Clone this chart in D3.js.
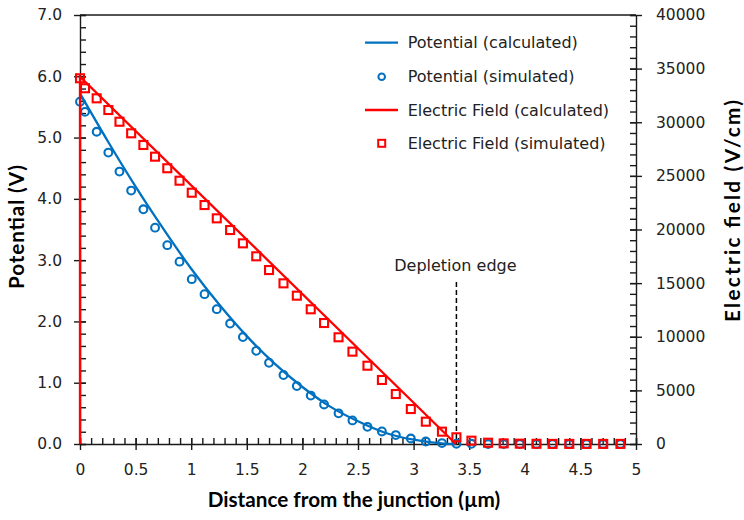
<!DOCTYPE html>
<html>
<head>
<meta charset="utf-8">
<script src="https://cdn.jsdelivr.net/npm/d3@7"></script>
<style>
  html, body { margin: 0; padding: 0; background: #fff; }
  svg { display: block; }
  .tick text { font-family: "DejaVu Sans", sans-serif; font-size: 15.5px; fill: #222; }
  .axis path, .axis line { stroke: #1a1a1a; stroke-width: 1.4; }
  .title { font-family: Lato, "Open Sans", sans-serif; font-weight: bold; font-size: 20.7px; fill: #000; }
  .legend text, .note { font-family: "DejaVu Sans", sans-serif; font-size: 16px; fill: #222; }
</style>
</head>
<body>
<svg id="chart" width="744" height="520"></svg>
<script>
// Distance from the junction (µm) of each simulated mesh point
const simX = [0, 0.045, 0.15, 0.255, 0.355, 0.46, 0.57, 0.675, 0.785, 0.895,
  1.005, 1.12, 1.23, 1.35, 1.465, 1.585, 1.70, 1.83, 1.95, 2.075,
  2.195, 2.325, 2.45, 2.585, 2.715, 2.84, 2.975, 3.11, 3.255, 3.385,
  3.52, 3.67, 3.81, 3.955, 4.105, 4.25, 4.40, 4.555, 4.705, 4.86];

// Simulated potential (V)
const simPotential = [5.585, 5.42, 5.095, 4.755, 4.445, 4.135, 3.83, 3.53, 3.245, 2.975,
  2.69, 2.445, 2.2, 1.965, 1.745, 1.52, 1.325, 1.125, 0.945, 0.79,
  0.645, 0.50, 0.385, 0.28, 0.205, 0.145, 0.09, 0.04, 0.015, 0.004,
  0.003, 0, 0, 0, 0, 0, 0, 0, 0, 0];

// Simulated electric field (V/cm)
const simField = [34100, 33170, 32230, 31140, 30050, 28970, 27880, 26790, 25710, 24550,
  23430, 22280, 21040, 19950, 18710, 17500, 16220, 14980, 13830, 12560,
  11280, 9950, 8610, 7300, 5970, 4660, 3260, 2080, 1150, 625,
  310, 120, 60, 30, 20, 10, 10, 10, 10, 10];

// Calculated potential (V)
const calcPotentialX = [0, 0.25, 0.5, 0.75, 1.0, 1.25, 1.5, 1.75, 2.0, 2.25, 2.5, 2.75, 3.0, 3.2, 3.38];
const calcPotential  = [5.72, 4.94, 4.20, 3.51, 2.86, 2.28, 1.76, 1.31, 0.93, 0.61, 0.37, 0.18, 0.07, 0.02, 0];

// Calculated electric field (V/cm)
const calcFieldX = [0, 0, 3.38];
const calcField  = [0, 34250, 0];

// Depletion edge position (µm)
const depletionEdge = 3.385;

// Axis ticks
const xTicks = [0, 0.5, 1, 1.5, 2, 2.5, 3, 3.5, 4, 4.5, 5];
const potentialTicks = [0, 1, 2, 3, 4, 5, 6, 7];
const fieldTicks = [0, 5000, 10000, 15000, 20000, 25000, 30000, 35000, 40000];

const legendItems = [
  { label: "Potential (calculated)", color: "#0070C0", kind: "line" },
  { label: "Potential (simulated)", color: "#0070C0", kind: "circle" },
  { label: "Electric Field (calculated)", color: "#FF0000", kind: "line" },
  { label: "Electric Field (simulated)", color: "#FF0000", kind: "square" }
];

const blue = "#0070C0", red = "#FF0000";
const svg = d3.select("#chart");
const plotLeft = 80, plotRight = 636, plotTop = 15, plotBottom = 444;

const x = d3.scaleLinear().domain([0, 5]).range([plotLeft, plotRight]);
const yL = d3.scaleLinear().domain([0, 7]).range([plotBottom, plotTop]);
const yR = d3.scaleLinear().domain([0, 40000]).range([plotBottom, plotTop]);

// top frame line
svg.append("line").attr("x1", plotLeft).attr("x2", plotRight).attr("y1", plotTop).attr("y2", plotTop)
  .attr("stroke", "#1a1a1a").attr("stroke-width", 1.4);

// minor ticks (inside the plot)
const minorX = d3.range(0, 5.0001, 0.1);
const minorL = d3.range(0, 7.0001, 0.2);
const minorR = d3.range(0, 40001, 1000);

svg.append("g").attr("class", "axis").attr("transform", `translate(0,${plotBottom})`)
  .call(d3.axisBottom(x).tickValues(minorX).tickSize(-6).tickFormat(""))
  .call(g => g.select(".domain").remove());
svg.append("g").attr("class", "axis").attr("transform", `translate(${plotLeft},0)`)
  .call(d3.axisLeft(yL).tickValues(minorL).tickSize(-6).tickFormat(""))
  .call(g => g.select(".domain").remove());
svg.append("g").attr("class", "axis").attr("transform", `translate(${plotRight},0)`)
  .call(d3.axisRight(yR).tickValues(minorR).tickSize(-6).tickFormat(""))
  .call(g => g.select(".domain").remove());

// major ticks crossing the axis lines, with labels
svg.append("g").attr("class", "axis").attr("transform", `translate(0,${plotBottom})`)
  .call(d3.axisBottom(x).tickValues(xTicks).tickSizeInner(6).tickSizeOuter(0).tickPadding(14).tickFormat(d3.format("")))
  .call(g => g.selectAll(".tick").append("line").attr("y2", -6).attr("stroke", "#1a1a1a"));
svg.append("g").attr("class", "axis").attr("transform", `translate(${plotLeft},0)`)
  .call(d3.axisLeft(yL).tickValues(potentialTicks).tickSizeInner(6).tickSizeOuter(0).tickPadding(12).tickFormat(d3.format(".1f")))
  .call(g => g.selectAll(".tick").append("line").attr("x2", 6).attr("stroke", "#1a1a1a"));
svg.append("g").attr("class", "axis").attr("transform", `translate(${plotRight},0)`)
  .call(d3.axisRight(yR).tickValues(fieldTicks).tickSizeInner(6).tickSizeOuter(0).tickPadding(14).tickFormat(d3.format("d")))
  .call(g => g.selectAll(".tick").append("line").attr("x2", -6).attr("stroke", "#1a1a1a"));

// axis titles
svg.append("text").attr("class", "title").attr("x", 354).attr("y", 507)
  .attr("text-anchor", "middle").text("Distance from the junction (µm)");
svg.append("text").attr("class", "title").attr("transform", "translate(24,227) rotate(-90)")
  .attr("text-anchor", "middle").attr("textLength", 124).text("Potential (V)");
svg.append("text").attr("class", "title").attr("transform", "translate(740,211) rotate(-90)")
  .attr("text-anchor", "middle").attr("textLength", 222).text("Electric field (V/cm)");

// depletion edge marker
svg.append("line").attr("x1", x(depletionEdge)).attr("x2", x(depletionEdge))
  .attr("y1", 282).attr("y2", plotBottom)
  .attr("stroke", "#000").attr("stroke-width", 1.5).attr("stroke-dasharray", "5,3");
svg.append("text").attr("class", "note").attr("x", x(depletionEdge) - 1).attr("y", 271)
  .attr("text-anchor", "middle").text("Depletion edge");

// potential series
const potLine = d3.line().x(d => x(d[0])).y(d => yL(d[1])).curve(d3.curveMonotoneX);
svg.append("path").datum(calcPotentialX.map((v, i) => [v, calcPotential[i]]))
  .attr("d", potLine).attr("fill", "none").attr("stroke", blue).attr("stroke-width", 2.3);
svg.append("g").selectAll("circle").data(simX.map((v, i) => [v, simPotential[i]])).join("circle")
  .attr("cx", d => x(d[0])).attr("cy", d => yL(d[1])).attr("r", 3.9)
  .attr("fill", "none").attr("stroke", blue).attr("stroke-width", 2.1);

// electric field series
const fieldLine = d3.line().x(d => x(d[0])).y(d => yR(d[1]));
svg.append("path").datum(calcFieldX.map((v, i) => [v, calcField[i]]))
  .attr("d", fieldLine).attr("fill", "none").attr("stroke", red).attr("stroke-width", 2.3);
const sq = 8;
svg.append("g").selectAll("rect").data(simX.map((v, i) => [v, simField[i]])).join("rect")
  .attr("x", d => x(d[0]) - sq / 2).attr("y", d => yR(d[1]) - sq / 2)
  .attr("width", sq).attr("height", sq)
  .attr("fill", "none").attr("stroke", red).attr("stroke-width", 2.1);

// legend
const legend = svg.append("g").attr("class", "legend");
const rowY = [42.7, 76.7, 110, 143.3];
legendItems.forEach((item, i) => {
  const g = legend.append("g").attr("transform", `translate(0,${rowY[i]})`);
  if (item.kind === "line") {
    g.append("line").attr("x1", 365).attr("x2", 398).attr("stroke", item.color).attr("stroke-width", 2.3);
  } else if (item.kind === "circle") {
    g.append("circle").attr("cx", 381.7).attr("r", 3.3).attr("fill", "none")
      .attr("stroke", item.color).attr("stroke-width", 2);
  } else {
    g.append("rect").attr("x", 381.7 - 3.5).attr("y", -3.5).attr("width", 7).attr("height", 7)
      .attr("fill", "none").attr("stroke", item.color).attr("stroke-width", 2);
  }
  g.append("text").attr("x", 407.7).attr("dy", "0.36em").text(item.label);
});
</script>
</body>
</html>
